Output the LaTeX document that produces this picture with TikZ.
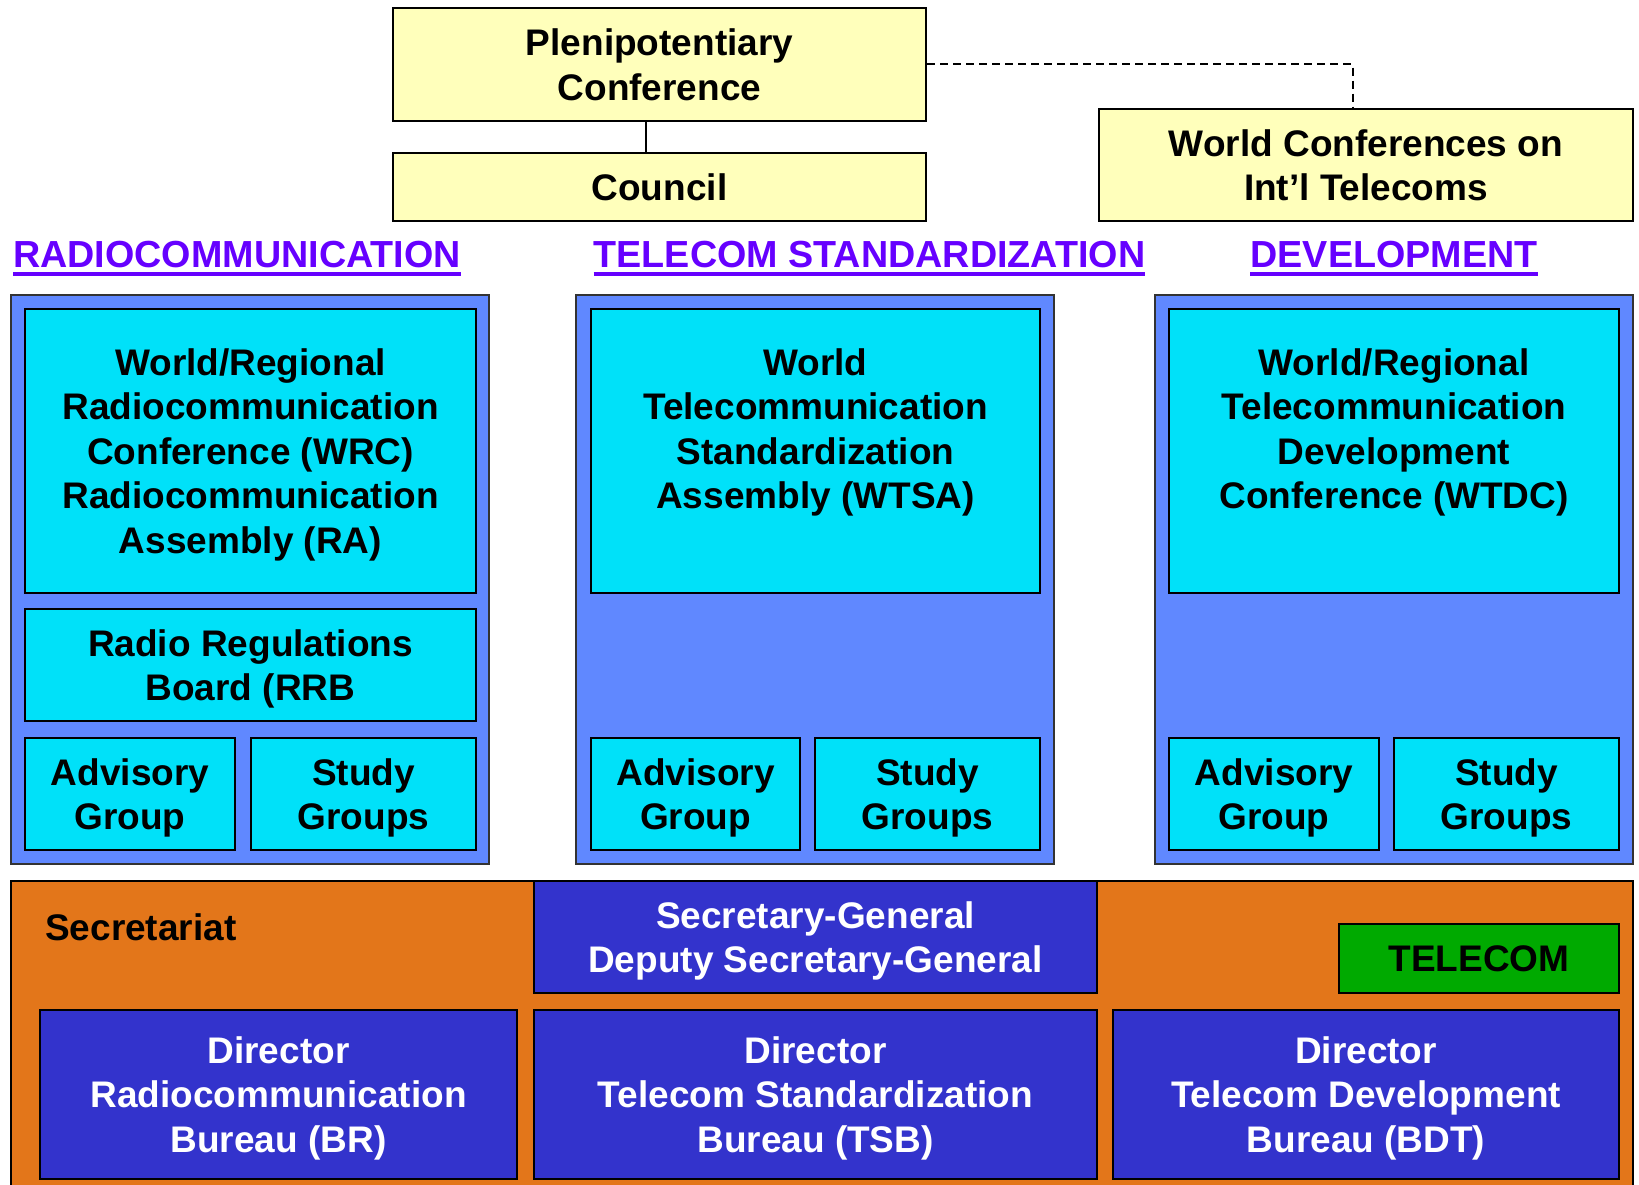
\documentclass[tikz,border=0pt]{standalone}
\usepackage{fontspec}
\setmainfont{Liberation Sans}
\definecolor{plenyellow}{RGB}{255,255,187}
\definecolor{boxcyan}{RGB}{0,225,249}
\definecolor{panelblue}{RGB}{96,136,255}
\definecolor{secorange}{RGB}{227,118,26}
\definecolor{dirblue}{RGB}{51,51,204}
\definecolor{telegreen}{RGB}{0,170,0}
\definecolor{headpurple}{RGB}{102,0,255}
\tikzstyle{ybox} = [draw,line width=2.5pt,fill=plenyellow,align=center,inner sep=0pt,text depth=0pt]
\tikzstyle{panel} = [draw=black!80,line width=2pt,fill=panelblue,inner sep=0pt]
\tikzstyle{cbox} = [draw,line width=2.5pt,fill=boxcyan,align=center,inner sep=0pt,text depth=0pt]
\tikzstyle{dbox} = [draw,line width=2.5pt,fill=dirblue,text=white,align=center,inner sep=0pt,text depth=0pt]
\tikzstyle{head} = [text=headpurple,inner sep=0pt,font=\fontsize{37.7}{44.5}\selectfont\bfseries]

\begin{document}
\begin{tikzpicture}[x=1pt,y=-1pt,font=\fontsize{37}{44.5}\selectfont\bfseries]
		\path[use as bounding box,fill=white] (0,0) rectangle (1639,1185);
		% top
		\node [ybox,minimum width=533pt,minimum height=113pt](plen) at (659.5,64.5) {Plenipotentiary\\Conference};
		\node [ybox,minimum width=533pt,minimum height=68pt](council) at (659.5,187) {Council};
		\node [ybox,minimum width=534pt,minimum height=112pt](wcit) at (1366,165) {World Conferences on\\Int’l Telecoms};
		\coordinate (wtop) at (1353,109);
		\coordinate (plink) at (646,121);
		\draw[line width=2pt](plink)--(plink|-council.north);
		\draw[line width=2pt,dashed,dash pattern=on 8pt off 5pt](plen.east)-|(wtop);
		
		% sector headings
		\node [head](hrad) at (237,255) {RADIOCOMMUNICATION};
		\node [head](htel) at (869.5,255) {TELECOM STANDARDIZATION};
		\node [head](hdev) at (1394,255) {DEVELOPMENT};
		\foreach \h in {hrad,htel,hdev}
			\draw[headpurple,line width=4pt]([yshift=-6pt]\h.base west)--([yshift=-6pt]\h.base east);
		
		% sector panels
		\node [panel,minimum width=478pt,minimum height=569pt](prad) at (250,579.5) {};
		\node [panel,minimum width=478pt,minimum height=569pt](ptel) at (815,579.5) {};
		\node [panel,minimum width=478pt,minimum height=569pt](pdev) at (1394,579.5) {};
		
		\node [cbox,minimum width=451pt,minimum height=284pt](wrc) at (250.5,451) {World/Regional\\Radiocommunication\\Conference (WRC)\\Radiocommunication\\Assembly (RA)};
		\node [cbox,minimum width=451pt,minimum height=112pt](rrb) at (250.5,665) {Radio Regulations\\Board (RRB};
		\node [cbox,minimum width=210pt,minimum height=112pt](advrad) at (130,794) {Advisory\\Group};
		\node [cbox,minimum width=225pt,minimum height=112pt](sgrad) at (363.5,794) {Study\\Groups};
		
		\node [cbox,minimum width=449pt,minimum height=284pt](wtsa) at (815.5,451) {World\\Telecommunication\\Standardization\\Assembly (WTSA)\\~};
		\node [cbox,minimum width=209pt,minimum height=112pt](advtel) at (695.5,794) {Advisory\\Group};
		\node [cbox,minimum width=225pt,minimum height=112pt](sgtel) at (927.5,794) {Study\\Groups};
		
		\node [cbox,minimum width=450pt,minimum height=284pt](wtdc) at (1394,451) {World/Regional\\Telecommunication\\Development\\Conference (WTDC)\\~};
		\node [cbox,minimum width=210pt,minimum height=112pt](advdev) at (1274,794) {Advisory\\Group};
		\node [cbox,minimum width=225pt,minimum height=112pt](sgdev) at (1506.5,794) {Study\\Groups};
		
		% secretariat
		\node [draw,line width=2.5pt,fill=secorange,minimum width=1622pt,minimum height=320pt,inner sep=0pt](sec) at (822,1041) {};
		\node [anchor=west,inner sep=0pt](sectxt) at (45,927) {Secretariat};
		\node [dbox,minimum width=563pt,minimum height=112pt](sg) at (815.5,937) {Secretary-General\\Deputy Secretary-General};
		\node [draw,line width=2.5pt,fill=telegreen,minimum width=280pt,minimum height=69pt,inner sep=0pt](telecom) at (1479,958.5) {TELECOM};
		\node [dbox,minimum width=477pt,minimum height=169pt](br) at (278.5,1094.5) {Director\\Radiocommunication\\Bureau (BR)};
		\node [dbox,minimum width=563pt,minimum height=169pt](tsb) at (815.5,1094.5) {Director\\Telecom Standardization\\Bureau (TSB)};
		\node [dbox,minimum width=506pt,minimum height=169pt](bdt) at (1366,1094.5) {Director\\Telecom Development\\Bureau (BDT)};
\end{tikzpicture}
\end{document}
